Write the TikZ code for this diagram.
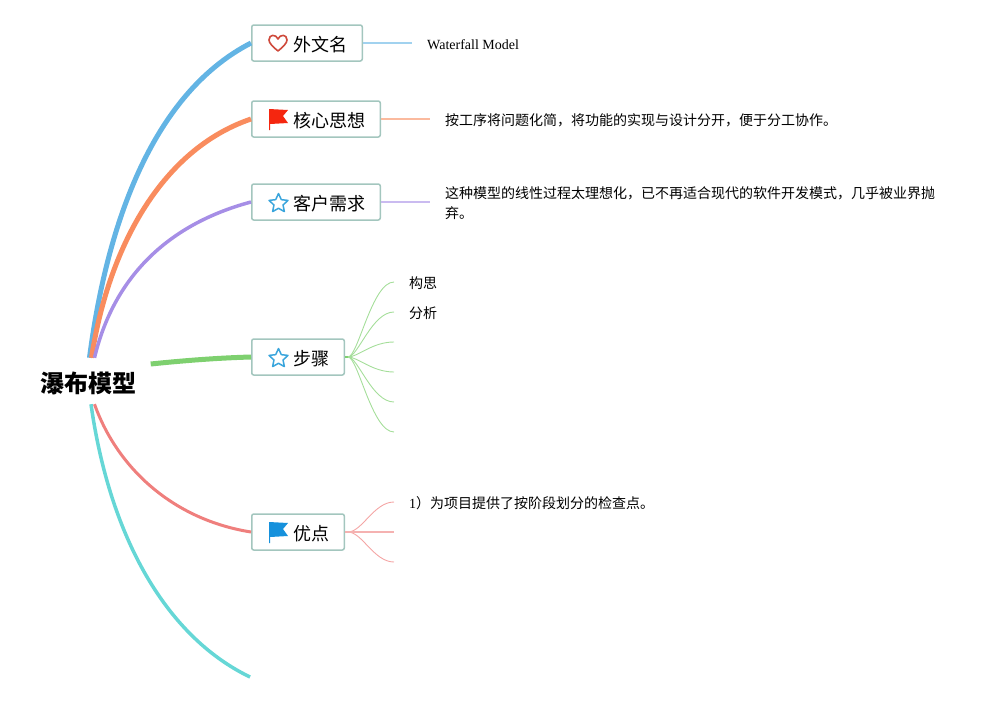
\documentclass[tikz,border=0pt]{standalone}
\usepackage{fontspec}
\setmainfont{Liberation Serif}
\newfontfamily\cjk{Noto Sans CJK SC}
\usetikzlibrary{shapes.geometric}
\definecolor{boxline}{HTML}{A3C6BE}
\definecolor{bluebranch}{HTML}{63B4E4}
\definecolor{orangebranch}{HTML}{F98C5E}
\definecolor{purplebranch}{HTML}{A68EE6}
\definecolor{greenbranch}{HTML}{7ED06F}
\definecolor{redbranch}{HTML}{EF7F7D}
\definecolor{tealbranch}{HTML}{66D7D6}
\definecolor{staricon}{HTML}{3AA5DC}
\newcommand{\lowertext}[2][1.3pt]{\raisebox{-#1}[\height][\depth]{#2}}
\newcommand{\boxtext}[1]{\hspace*{27.5pt}\lowertext[1.5pt]{#1}}
\tikzset{
  topicbox/.style={draw=boxline,line width=1.5pt,rounded corners=2pt,fill=white,anchor=west,
    minimum height=36pt,inner xsep=14.5pt,inner ysep=0pt,font=\fontsize{18pt}{20pt}\cjk},
  leaftext/.style={anchor=west,inner xsep=15pt,inner ysep=0pt,align=left,font=\fontsize{14pt}{20pt}\cjk},
  branch/.style={line width=#1,line cap=butt},
  twig/.style={line width=0.9pt,#1!70},
  stem/.style={line width=1.5pt,#1!60},
  stariconmark/.style={star,star points=5,star point ratio=2.1,draw=staricon,line width=1.5pt,
    line join=round,minimum size=20pt,inner sep=0pt}
}
\begin{document}
\begin{tikzpicture}[x=1pt,y=-1pt]
\useasboundingbox (0,0) rectangle (1005,702);

% Root
\node [font=\fontsize{24pt}{26pt}\cjk\bfseries,minimum height=46pt,inner xsep=14pt,inner ysep=0pt] (root) at (88.5,381) {\lowertext[2pt]{瀑布模型}};

% Topic boxes
\node [topicbox] (name) at (251,43) {\boxtext{外文名}};
\node [topicbox] (idea) at (251,119) {\boxtext{核心思想}};
\node [topicbox] (need) at (251,202) {\boxtext{客户需求}};
\node [topicbox] (steps) at (251,357) {\boxtext{步骤}};
\node [topicbox] (merit) at (251,532) {\boxtext{优点}};
\coordinate (lastend) at (250,677);

% Leaves
\node [leaftext] (waterfall) at (412,43) {\lowertext{\rmfamily\fontsize{14pt}{20pt}\selectfont Waterfall Model}};
\node [leaftext] (ideatext) at (430,119) {\lowertext{按工序将问题化简，将功能的实现与设计分开，便于分工协作。}};
\node [leaftext] (needtext) at (430,203) {这种模型的线性过程太理想化，已不再适合现代的软件开发模式，几乎被业界抛\\弃。};
\node [leaftext] (stepa) at (394,282) {\lowertext{构思}};
\node [leaftext] (stepb) at (394,312) {\lowertext{分析}};
\coordinate (stepc) at (394,342);
\coordinate (stepd) at (394,372);
\coordinate (stepe) at (394,402);
\coordinate (stepf) at (394,432);
\node [leaftext] (merita) at (394,502) {\lowertext{{\rmfamily 1}）为项目提供了按阶段划分的检查点。}};
\coordinate (meritb) at (394,532);
\coordinate (meritc) at (394,562);

% Branches from root, upper side
\draw [branch=5pt,bluebranch] ([xshift=1pt]root.north) .. controls (106,230) and (150,95) .. (name.west);
\draw [branch=5pt,orangebranch] ([xshift=3pt]root.north) .. controls (108,250) and (160,150) .. (idea.west);
\draw [branch=3.5pt,purplebranch] ([xshift=6pt]root.north) .. controls (113,280) and (165,225) .. (need.west);

% Branches from root, lower side
\draw [branch=5pt,greenbranch] ([yshift=17pt]root.east) .. controls (180,361) and (215,358) .. (steps.west);
\draw [branch=3.5pt,tealbranch] ([xshift=2.5pt]root.south) .. controls (109,532) and (163,635) .. (lastend);
\draw [branch=3pt,redbranch] ([xshift=6pt]root.south) .. controls (118,470) and (175,520) .. (merit.west);

% Stems from boxes
\draw [stem=bluebranch] (name.east) -- (waterfall.west);
\draw [stem=orangebranch] (idea.east) -- (ideatext.west);
\draw [stem=purplebranch] (need.east) -- ([yshift=1pt]needtext.west);

% Twigs of the steps box
\draw [line width=1.5pt,greenbranch] (steps.east) -- ++(3,0);
\foreach \leafname in {stepa,stepb,stepc,stepd,stepe,stepf}{
  \draw [twig=greenbranch] ([xshift=3pt]steps.east) .. controls (358,357) and (372,0 |- \leafname.west) .. (\leafname.west);
}

% Twigs of the merit box
\draw [line width=1.5pt,redbranch] (merit.east) -- ++(3,0);
\foreach \leafname in {merita,meritc}{
  \draw [twig=redbranch] ([xshift=3pt]merit.east) .. controls (362,532) and (374,0 |- \leafname.west) .. (\leafname.west);
}
\draw [stem=redbranch] (merit.east) -- (meritb);

% Icons
\begin{scope}[shift={(278,43)}]
  \draw [line width=1.6pt,color={rgb,255:red,207;green,74;blue,60},line join=round]
    (0,8) .. controls (-5,4) and (-9,0) .. (-9,-3) .. controls (-9,-9) and (-2,-9) .. (0,-4)
    .. controls (2,-9) and (9,-9) .. (9,-3) .. controls (9,0) and (5,4) .. (0,8) -- cycle;
\end{scope}
\begin{scope}[shift={(278,119)}]
  \fill [color={rgb,255:red,245;green,38;blue,15}] (-9,-10) -- (10,-9) -- (5,-3) -- (10,4) -- (-8,5) -- (-8,11) -- (-9,11) -- cycle;
\end{scope}
\begin{scope}[shift={(278,532)}]
  \fill [color={rgb,255:red,22;green,145;blue,220}] (-9,-10) -- (10,-9) -- (5,-3) -- (10,4) -- (-8,5) -- (-8,11) -- (-9,11) -- cycle;
\end{scope}
\node [stariconmark] (needstar) at (278.5,203.5) {};
\node [stariconmark] (stepstar) at (278.5,358.5) {};
\end{tikzpicture}
\end{document}
